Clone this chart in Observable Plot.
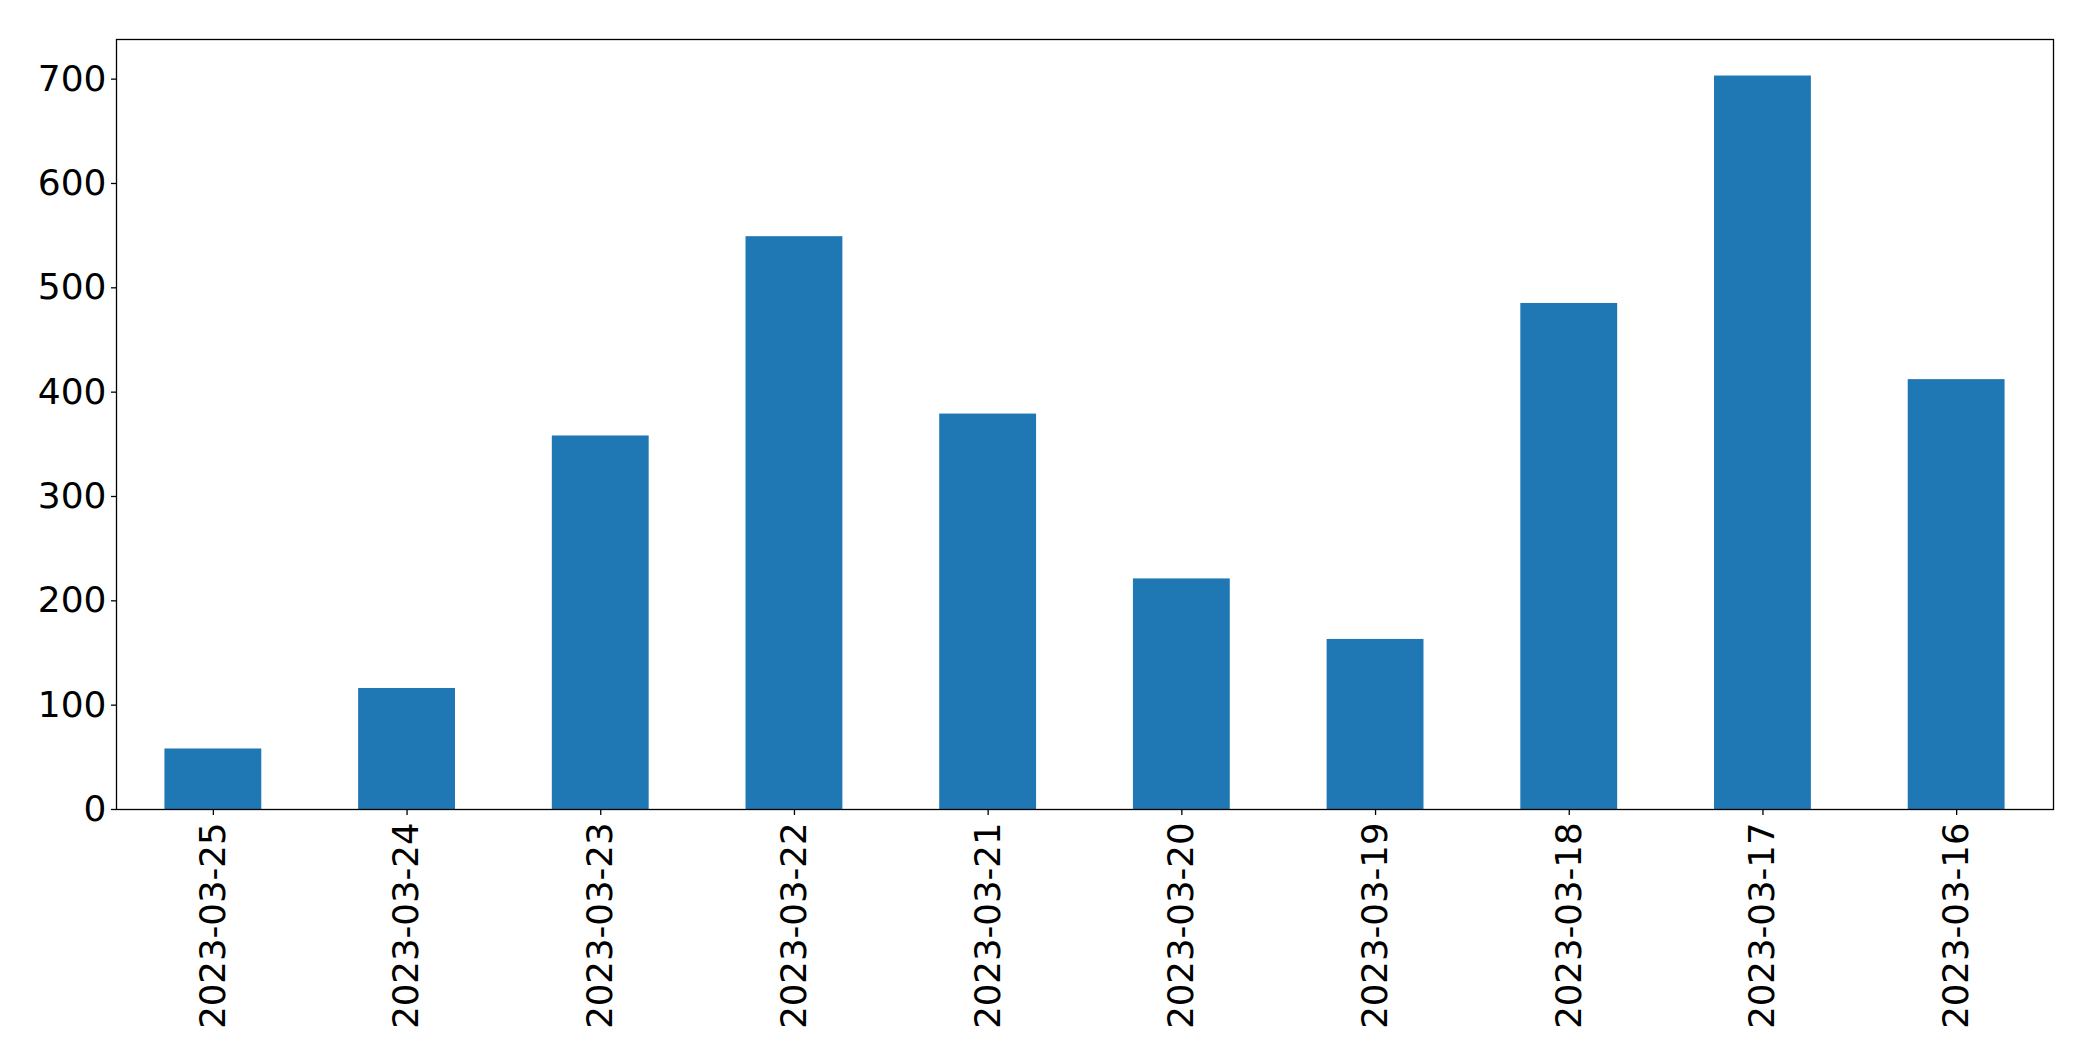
<!DOCTYPE html>
<html>
<head>
<meta charset="utf-8">
<script src="https://cdn.jsdelivr.net/npm/d3@7"></script>
<script src="https://cdn.jsdelivr.net/npm/@observablehq/plot@0.6"></script>
<style>
  html, body { margin: 0; padding: 0; background: #fff; }
  #chart svg { display: block; }
</style>
</head>
<body>
<div id="chart"></div>
<script>
const dates = ["2023-03-25","2023-03-24","2023-03-23","2023-03-22","2023-03-21","2023-03-20","2023-03-19","2023-03-18","2023-03-17","2023-03-16"];
const counts = [58, 116, 358, 549, 379, 221, 163, 485, 703, 412];
const yTicks = [0, 100, 200, 300, 400, 500, 600, 700];

const data = dates.map((d, i) => ({date: d, count: counts[i]}));

const chart = Plot.plot({
  width: 2093,
  height: 1061,
  marginLeft: 116,
  marginRight: 40,
  marginTop: 39,
  marginBottom: 252,
  style: {fontFamily: "DejaVu Sans", fontSize: "36px", color: "#000", background: "#fff"},
  x: {domain: dates, paddingInner: 0.5, paddingOuter: 0.25, align: 0.5, round: false, label: null},
  y: {domain: [0, 738], label: null},
  marks: [
    Plot.barY(data, {x: "date", y: "count", fill: "#1f77b4"}),
    Plot.frame({stroke: "#000", strokeWidth: 1.3}),
    Plot.axisY({ticks: yTicks, tickSize: 5, tickPadding: 5, fontSize: 36, label: null, stroke: "#000", strokeWidth: 1.3}),
    Plot.axisX({tickSize: 6, tickPadding: 7, tickRotate: -90, fontSize: 35.5, label: null, stroke: "#000", strokeWidth: 1.3})
  ]
});
document.getElementById("chart").appendChild(chart);
</script>
</body>
</html>
